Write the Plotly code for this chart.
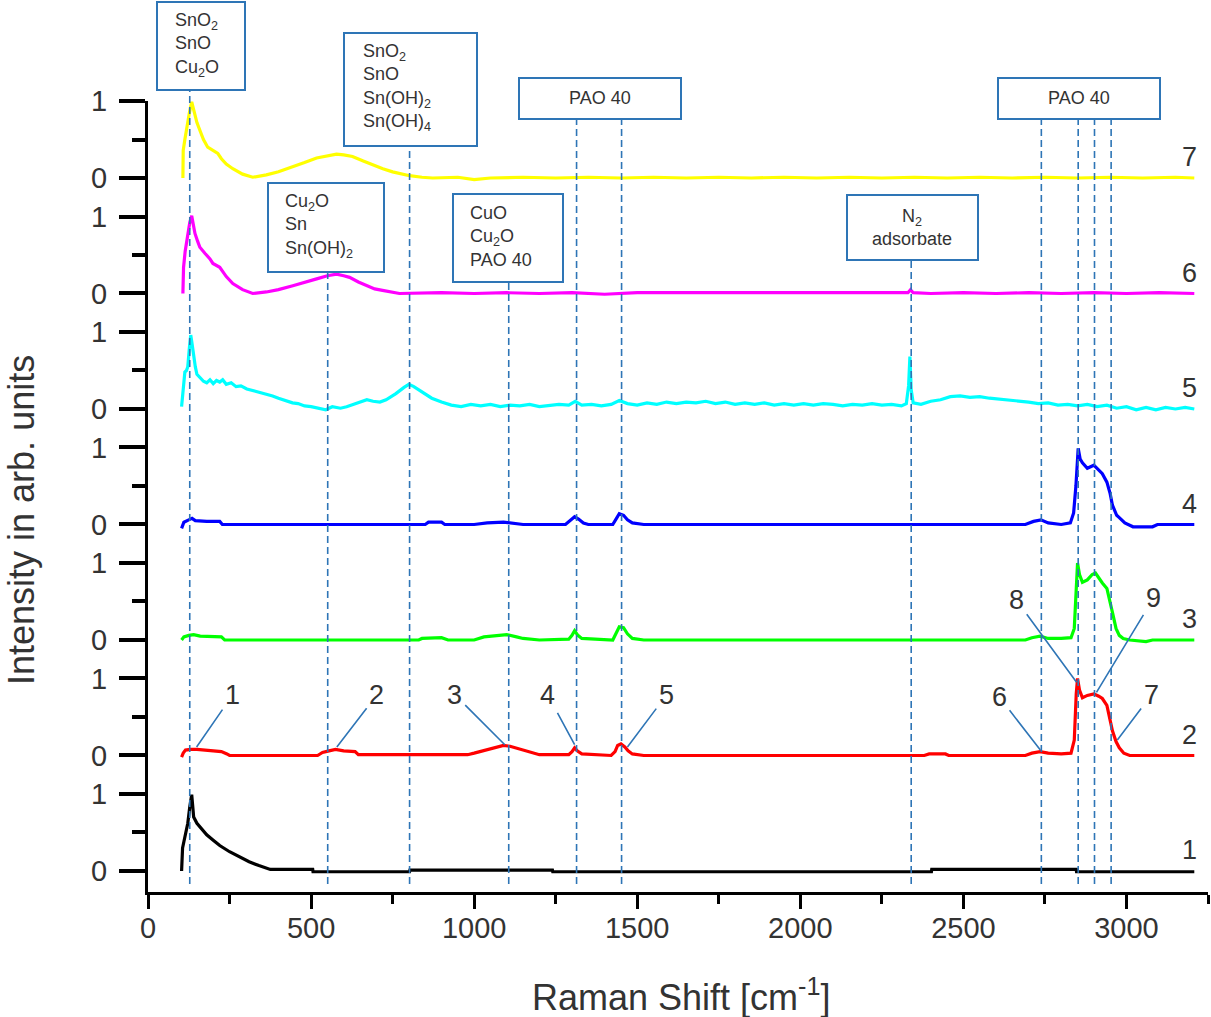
import plotly.graph_objects as go

# ---------------- data ----------------
offsets = [0, 1.5, 3, 4.5, 6, 7.5, 9]
colors = ["#000000", "#ff0000", "#00ff00", "#0000ff", "#00ffff", "#ff00ff", "#ffff00"]
trace_names = ["1", "2", "3", "4", "5", "6", "7"]

x1 = [103, 104, 106, 110, 116, 122, 128, 134, 137, 140, 150, 160, 180, 200, 220, 250, 280, 310, 340, 365, 375,
      505, 506, 802, 803, 1240, 1241, 2402, 2403, 2846, 2847, 3208]
y1 = [0.0, 0.15, 0.3, 0.38, 0.49, 0.62, 0.83, 0.99, 0.85, 0.7, 0.62, 0.57, 0.47, 0.40, 0.33, 0.25, 0.18, 0.12, 0.07, 0.03, 0.02,
      0.02, -0.01, -0.01, 0.01, 0.01, -0.01, -0.01, 0.02, 0.02, -0.01, -0.01]

x2 = [103, 108, 115, 130, 150, 175, 200, 225, 242, 250, 520, 535, 555, 575, 600, 635, 645, 980, 1000, 1030, 1060,
      1090, 1110, 1140, 1170, 1200, 1290, 1300, 1308, 1316, 1330, 1420, 1432, 1440, 1450, 1462, 1472, 1485, 1520,
      2380, 2395, 2445, 2455, 2690, 2710, 2735, 2760, 2800, 2830, 2840, 2846, 2850, 2856, 2865, 2880, 2900, 2915,
      2926, 2940, 2950, 2957, 2968, 2978, 2992, 3010, 3208]
y2 = [-0.02, 0.03, 0.07, 0.08, 0.08, 0.07, 0.06, 0.05, 0.02, 0.0, 0.0, 0.04, 0.06, 0.08, 0.06, 0.05, 0.01, 0.01, 0.03, 0.06, 0.1,
      0.13, 0.12, 0.08, 0.04, 0.01, 0.01, 0.05, 0.1, 0.06, 0.02, 0.0, 0.05, 0.13, 0.15, 0.11, 0.06, 0.02, 0.0,
      0.0, 0.02, 0.02, 0.0, 0.0, 0.03, 0.05, 0.03, 0.02, 0.03, 0.2, 0.8, 1.0, 0.85, 0.75, 0.78, 0.8, 0.77,
      0.74, 0.65, 0.45, 0.32, 0.18, 0.1, 0.03, 0.0, 0.0]

x3 = [103, 110, 125, 140, 160, 200, 225, 235, 830, 840, 900, 920, 1000, 1030, 1070, 1100, 1130, 1150, 1200, 1290,
      1300, 1308, 1318, 1330, 1425, 1435, 1445, 1458, 1470, 1485, 1520, 2690, 2710, 2735, 2760, 2800, 2830, 2840,
      2846, 2850, 2856, 2865, 2880, 2895, 2905, 2915, 2926, 2940, 2950, 2957, 2968, 2978, 2990, 3010, 3060, 3080, 3208]
y3 = [0.0, 0.04, 0.06, 0.07, 0.05, 0.04, 0.04, 0.0, 0.0, 0.02, 0.03, 0.0, 0.0, 0.04, 0.06, 0.07, 0.04, 0.02, 0.0, 0.01,
      0.06, 0.12, 0.06, 0.02, 0.0, 0.08, 0.17, 0.16, 0.08, 0.02, 0.0, 0.0, 0.03, 0.05, 0.02, 0.02, 0.03, 0.15,
      0.8, 1.0, 0.85, 0.75, 0.78, 0.85, 0.87, 0.8, 0.74, 0.67, 0.5, 0.36, 0.15, 0.06, 0.02, 0.0, -0.02, 0.0, 0.0]

x4 = [103, 110, 125, 135, 145, 180, 220, 228, 850, 860, 900, 910, 1000, 1040, 1090, 1120, 1150, 1280, 1295, 1308,
      1320, 1335, 1350, 1425, 1435, 1445, 1458, 1470, 1485, 1520, 2690, 2715, 2738, 2760, 2800, 2828, 2838, 2845,
      2852, 2858, 2865, 2880, 2900, 2915, 2926, 2940, 2950, 2957, 2970, 2978, 2995, 3020, 3080, 3095, 3208]
y4 = [-0.05, 0.03, 0.06, 0.08, 0.05, 0.04, 0.04, 0.0, 0.0, 0.03, 0.03, 0.0, 0.0, 0.02, 0.03, 0.02, 0.0, 0.0, 0.05, 0.1,
      0.07, 0.02, 0.0, 0.0, 0.07, 0.14, 0.12, 0.06, 0.02, 0.0, 0.0, 0.04, 0.06, 0.02, 0.0, 0.02, 0.15, 0.5,
      0.99, 0.85, 0.8, 0.73, 0.77, 0.7, 0.66, 0.55, 0.4, 0.25, 0.12, 0.09, 0.02, -0.03, -0.03, 0.0, 0.0]

x5 = [103, 108, 113, 118, 122, 127, 131, 135, 139, 145, 150, 160, 170, 180, 190, 200, 210, 220, 229, 240, 255, 270,
      285, 303, 320, 340, 360, 382, 400, 420, 443, 460, 480, 500, 526, 545, 565, 590, 609, 630, 650, 671, 690, 711,
      730, 760, 785, 800, 815, 840, 870, 900, 930, 960, 990, 1020, 1050, 1080, 1110, 1140, 1170, 1200, 1230, 1260,
      1290, 1310, 1330, 1360, 1390, 1420, 1445, 1470, 1500, 1530, 1560, 1590, 1620, 1650, 1680, 1710, 1740, 1770,
      1800, 1830, 1860, 1890, 1920, 1950, 1980, 2010, 2040, 2070, 2100, 2130, 2160, 2190, 2220, 2250, 2280, 2310,
      2325, 2332, 2336, 2340, 2346, 2370, 2400, 2430, 2460, 2490, 2520, 2550, 2580, 2610, 2640, 2670, 2700, 2730,
      2760, 2790, 2820, 2850, 2880, 2910, 2940, 2970, 3000, 3030, 3060, 3090, 3120, 3150, 3180, 3208]
y5 = [0.03, 0.3, 0.48, 0.5, 0.55, 0.8, 0.96, 0.85, 0.72, 0.55, 0.45, 0.4, 0.36, 0.34, 0.38, 0.33, 0.37, 0.35, 0.38, 0.32,
      0.34, 0.29, 0.3, 0.26, 0.24, 0.22, 0.2, 0.17, 0.14, 0.11, 0.08, 0.07, 0.04, 0.03, 0.01, -0.01, 0.03, 0.01, 0.03,
      0.06, 0.08, 0.12, 0.1, 0.09, 0.12, 0.2, 0.28, 0.32, 0.29, 0.22, 0.14, 0.09, 0.05, 0.03, 0.06, 0.04, 0.06, 0.03,
      0.05, 0.04, 0.06, 0.03, 0.05, 0.06, 0.05, 0.1, 0.05, 0.06, 0.04, 0.06, 0.11, 0.07, 0.05, 0.08, 0.06, 0.09, 0.07,
      0.09, 0.08, 0.1, 0.07, 0.09, 0.06, 0.08, 0.06, 0.08, 0.05, 0.07, 0.05, 0.07, 0.05, 0.07, 0.06, 0.04, 0.06, 0.05,
      0.07, 0.05, 0.06, 0.04, 0.07, 0.3, 0.68, 0.25, 0.08, 0.06, 0.1, 0.12, 0.16, 0.17, 0.15, 0.16, 0.14, 0.13, 0.12,
      0.1, 0.09, 0.07, 0.08, 0.05, 0.06, 0.04, 0.06, 0.03, 0.05, 0.01, 0.03, -0.01, 0.02, -0.01, 0.02, 0.0, 0.02, 0.0]

x6 = [107, 109, 114, 122, 128, 134, 140, 144, 152, 159, 175, 190, 199, 210, 220, 240, 260, 290, 321, 363, 400, 444,
      480, 517, 550, 578, 600, 618, 645, 670, 695, 719, 745, 771, 900, 1000, 1100, 1200, 1300, 1400, 1500, 1600,
      1700, 1800, 1900, 2000, 2100, 2200, 2300, 2330, 2338, 2346, 2400, 2500, 2600, 2700, 2800, 2900, 3000, 3100, 3208]
y6 = [0.0, 0.34, 0.55, 0.78, 0.92, 1.01, 0.88, 0.78, 0.68, 0.6, 0.52, 0.45, 0.39, 0.36, 0.34, 0.22, 0.13, 0.05, 0.0,
      0.02, 0.05, 0.1, 0.14, 0.19, 0.23, 0.25, 0.23, 0.21, 0.15, 0.1, 0.06, 0.04, 0.02, 0.0, 0.01, 0.0, 0.01, 0.0,
      0.01, -0.01, 0.01, 0.01, 0.0, 0.01, 0.0, 0.01, 0.0, 0.01, 0.0, 0.01, 0.05, 0.01, 0.0, 0.01, 0.0, 0.01, 0.0,
      0.01, 0.0, 0.01, 0.0]

x7 = [107, 108, 113, 119, 127, 134, 139, 144, 150, 159, 170, 183, 200, 214, 225, 240, 260, 290, 321, 363, 400, 444,
      480, 517, 550, 578, 600, 627, 660, 689, 720, 750, 780, 802, 840, 873, 950, 1000, 1050, 1150, 1250, 1350, 1450,
      1550, 1650, 1750, 1850, 1950, 2050, 2150, 2250, 2350, 2450, 2550, 2650, 2750, 2850, 2950, 3050, 3150, 3208]
y7 = [0.0, 0.36, 0.5, 0.66, 0.85, 0.99, 0.9, 0.82, 0.72, 0.62, 0.5, 0.4, 0.35, 0.32, 0.25, 0.18, 0.12, 0.05, 0.01,
      0.04, 0.08, 0.14, 0.2, 0.26, 0.29, 0.31, 0.3, 0.28, 0.22, 0.17, 0.12, 0.08, 0.05, 0.03, 0.01, 0.0, 0.01, -0.02,
      0.0, 0.01, 0.0, 0.01, 0.0, 0.01, 0.0, 0.01, 0.0, 0.01, 0.0, 0.01, 0.0, 0.01, 0.0, 0.01, 0.0, 0.01, 0.0, 0.01,
      0.0, 0.01, 0.0]

xs = [x1, x2, x3, x4, x5, x6, x7]
ys = [y1, y2, y3, y4, y5, y6, y7]

x_tick_vals = [0, 500, 1000, 1500, 2000, 2500, 3000]
x_tick_text = ["0", "500", "1000", "1500", "2000", "2500", "3000"]
x_minor_vals = [250, 750, 1250, 1750, 2250, 2750, 3250]

# assigned band positions (cm-1) and the box each dashed line hangs from (pixel y of box bottom)
band_positions = [128, 551, 802, 1106, 1314, 1452, 2340, 2739, 2852, 2902, 2953]
band_line_top_px = [90, 272, 146, 282, 119, 119, 260, 119, 119, 119, 119]

# numbered peaks on spectrum 2
peak_numbers = ["1", "2", "3", "4", "5", "6", "7", "8", "9"]
peak_x = [149, 579, 1094, 1308, 1470, 2736, 2972, 2847, 2908]
peak_y = [0.11, 0.11, 0.14, 0.14, 0.11, 0.07, 0.2, 0.95, 0.82]
peak_label_dx = [36, 40, -50, -27, 39, -41, 34, -60, 57]
peak_label_dy = [-52, -52, -50, -50, -52, -53, -45, -82, -94]

# assignment boxes: (left, top, right, bottom) in pixels, text, text anchor
box_rects = [(157, 2, 245, 90), (344, 33, 477, 146), (268, 183, 384, 272), (453, 194, 563, 282),
             (519, 78, 681, 119), (847, 195, 978, 260), (998, 78, 1160, 119)]
box_texts = ["SnO<sub>2</sub><br>SnO<br>Cu<sub>2</sub>O",
             "SnO<sub>2</sub><br>SnO<br>Sn(OH)<sub>2</sub><br>Sn(OH)<sub>4</sub>",
             "Cu<sub>2</sub>O<br>Sn<br>Sn(OH)<sub>2</sub>",
             "CuO<br>Cu<sub>2</sub>O<br>PAO 40",
             "PAO 40",
             "N<sub>2</sub><br>adsorbate",
             "PAO 40"]
box_text_pos = [(173, 45, "left"), (361, 88, "left"), (283, 226, "left"), (468, 237, "left"),
                (600, 98, "center"), (912, 227, "center"), (1079, 98, "center")]

# ---------------- layout helpers ----------------
W_FIG, H_FIG = 1211, 1017
L, R, T, B = 148, 3, 101, 125
PW, PH = W_FIG - L - R, H_FIG - T - B
Y_RANGE = [-0.273, 10]


def px2x(px):
    return (px - L) / PW


def py2y(py):
    return (T + PH - py) / PH


FONT = "Liberation Sans, Arial, sans-serif"
TXT = "#333333"
BLUE = "#2e75b6"

fig = go.Figure()
for xv, yv, off, col, nm in zip(xs, ys, offsets, colors, trace_names):
    fig.add_trace(go.Scatter(x=xv, y=[v + off for v in yv], mode="lines",
                             line=dict(color=col, width=3.2), name=nm, showlegend=False,
                             hoverinfo="skip"))

shapes = []
annotations = []

# dashed band lines
for bx, top in zip(band_positions, band_line_top_px):
    shapes.append(dict(type="line", xref="x", yref="paper", x0=bx, x1=bx,
                       y0=py2y(884), y1=py2y(top),
                       line=dict(color=BLUE, width=1.6, dash="7px,4px")))

# boxes
for (l, t, r, b) in box_rects:
    shapes.append(dict(type="rect", xref="paper", yref="paper",
                       x0=px2x(l), x1=px2x(r), y0=py2y(b), y1=py2y(t),
                       line=dict(color=BLUE, width=2), fillcolor="white", layer="above"))

for txt, (tx, ty, al) in zip(box_texts, box_text_pos):
    annotations.append(dict(xref="paper", yref="paper", x=px2x(tx), y=py2y(ty),
                            xanchor=al, yanchor="middle", align=al, text=txt, showarrow=False,
                            font=dict(family=FONT, size=18, color=TXT)))

# peak number labels with leader lines
for t, px_, py_, dx, dy in zip(peak_numbers, peak_x, peak_y, peak_label_dx, peak_label_dy):
    annotations.append(dict(x=px_, y=py_ + offsets[1], xref="x", yref="y", text=t,
                            showarrow=True, arrowhead=0, arrowwidth=1.6, arrowcolor=BLUE,
                            ax=dx, ay=dy, standoff=0, startstandoff=2,
                            font=dict(family=FONT, size=27, color=TXT)))

# spectrum numbers on the right
for nm, off in zip(trace_names, offsets):
    annotations.append(dict(xref="paper", yref="y", x=px2x(1189), y=off + 0.27, text=nm,
                            showarrow=False, xanchor="center", yanchor="middle",
                            font=dict(family=FONT, size=27, color=TXT)))

# axis titles
annotations.append(dict(xref="paper", yref="paper", x=px2x(681), y=py2y(995),
                        text="Raman Shift [cm<sup>-1</sup>]", showarrow=False,
                        xanchor="center", yanchor="middle",
                        font=dict(family=FONT, size=36, color=TXT)))
annotations.append(dict(xref="paper", yref="paper", x=px2x(21), y=py2y(520),
                        text="Intensity in arb. units", showarrow=False, textangle=-90,
                        xanchor="center", yanchor="middle",
                        font=dict(family=FONT, size=36, color=TXT)))

y_tick_vals = []
y_tick_text = []
y_minor_vals = []
for off in offsets:
    y_tick_vals += [off, off + 1]
    y_tick_text += ["0", "1"]
    y_minor_vals.append(off + 0.5)

fig.update_layout(
    width=W_FIG, height=H_FIG,
    margin=dict(l=L, r=R, t=T, b=B, pad=0),
    paper_bgcolor="white", plot_bgcolor="white",
    shapes=shapes, annotations=annotations,
    xaxis=dict(range=[0, 3250], showgrid=False, zeroline=False, showline=True,
               linecolor="black", linewidth=3, ticks="outside", ticklen=14, tickwidth=3,
               tickcolor="black", tickvals=x_tick_vals, ticktext=x_tick_text,
               tickfont=dict(family=FONT, size=29, color=TXT), ticklabelstandoff=-6,
               minor=dict(tickvals=x_minor_vals, ticks="outside", ticklen=9, tickwidth=3,
                          tickcolor="black", showgrid=False)),
    yaxis=dict(range=Y_RANGE, showgrid=False, zeroline=False, showline=True,
               linecolor="black", linewidth=3, ticks="outside", ticklen=26, tickwidth=4,
               tickcolor="black", tickvals=y_tick_vals, ticktext=y_tick_text,
               tickfont=dict(family=FONT, size=29, color=TXT), ticklabelstandoff=6,
               minor=dict(tickvals=y_minor_vals, ticks="outside", ticklen=13, tickwidth=4,
                          tickcolor="black", showgrid=False)),
)

fig.write_html("out.html")
